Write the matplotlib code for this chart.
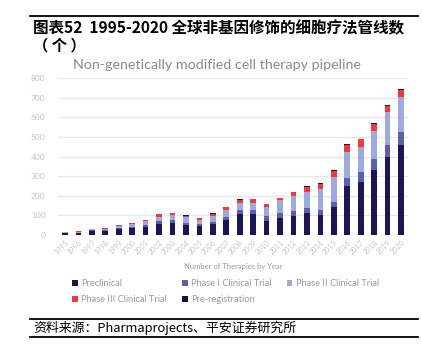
import matplotlib
matplotlib.use("Agg")
import matplotlib.pyplot as plt
import numpy as np

plt.rcParams['font.family'] = ['Lato', 'DejaVu Sans']

# data
years = [str(y) for y in range(1995, 2021)]
preclinical = [9, 9, 20, 21, 29, 35, 42, 57, 60, 52, 48, 57, 77, 105, 109, 73,
               85, 97, 114, 100, 141, 252, 272, 332, 398, 460]
phase1 = [2, 3, 5, 5, 8, 8, 8, 12, 17, 9, 7, 7, 17, 22, 19, 24,
          29, 26, 26, 29, 29, 37, 51, 56, 61, 68]
phase2 = [2, 4, 5, 7, 10, 11, 22, 23, 24, 29, 21, 31, 36, 37, 37, 48,
          63, 77, 80, 106, 128, 136, 128, 145, 167, 177]
phase3 = [2, 2, 2, 3, 4, 5, 5, 15, 11, 9, 11, 14, 14, 17, 17, 14,
          12, 20, 27, 25, 31, 32, 37, 36, 32, 34]
prereg = [0, 1, 1, 0, 1, 1, 1, 1, 1, 1, 1, 1, 1, 1, 1, 1,
          2, 1, 1, 5, 3, 7, 2, 5, 5, 8]

series = [
    ("Preclinical", preclinical, "#1d1650"),
    ("Phase I Clinical Trial", phase1, "#5d5fa8"),
    ("Phase II Clinical Trial", phase2, "#9eaade"),
    ("Phase III Clinical Trial", phase3, "#f0393f"),
    ("Pre-registration", prereg, "#15103d"),
]

fig = plt.figure(figsize=(4.22, 3.59), dpi=100)
ax = fig.add_axes([58 / 422, 1 - 235 / 359, 350 / 422, 156.7 / 359])

x = np.arange(len(years))
bottom = np.zeros(len(years))
bars = {}
for name, vals, col in series:
    bars[name] = ax.bar(x, vals, width=0.42, bottom=bottom, color=col, label=name, zorder=3)
    bottom += np.array(vals)

ax.set_xlim(-0.52, len(years) - 0.48)
ax.set_ylim(0, 800)
ax.set_yticks(range(0, 801, 100))
ax.grid(axis='y', color='#e8e8e8', lw=1.0, zorder=0)
for s in ax.spines.values():
    s.set_visible(False)
ax.tick_params(axis='both', length=0, colors='#c4c4c4', labelsize=6)
ax.tick_params(axis='y', pad=9)
ax.set_xticks(x)
ax.set_xticklabels(years, rotation=45, ha='right', rotation_mode='anchor', fontsize=5.2)
ax.tick_params(axis='x', pad=3)

fig.text(217 / 422, 1 - 65 / 359, "Non-genetically modified cell therapy pipeline",
         ha='center', va='center', fontsize=10.3, color='#8a8a8a')
fig.text(233 / 422, 1 - 266 / 359, "Number of Therapies by Year",
         ha='center', va='center', fontsize=5.5, color='#9a9a9a')

# legend, row-wise order
order = ["Preclinical", "Phase III Clinical Trial", "Phase I Clinical Trial",
         "Pre-registration", "Phase II Clinical Trial"]
leg = fig.legend([bars[n] for n in order], order, ncol=3, frameon=False,
                 loc='upper left', bbox_to_anchor=(72 / 422, 1 - 279 / 359),
                 fontsize=6.7, handlelength=0.6, handleheight=0.6, handletextpad=0.4,
                 columnspacing=1.6, labelspacing=0.75, borderaxespad=0, borderpad=0)
for t in leg.get_texts():
    t.set_color('#9a9a9a')

# header and source
cjk = ['Noto Sans CJK SC', 'DejaVu Sans']
fig.add_artist(plt.Line2D([30 / 422, 418 / 422], [1 - 15.5 / 359] * 2, color='black', lw=1.3))
fig.text(33 / 422, 1 - 28 / 359, "图表52  1995-2020 全球非基因修饰的细胞疗法管线数",
         ha='left', va='center', fontsize=11.2, fontweight='bold', family=cjk)
fig.text(33 / 422, 1 - 45 / 359, "（ 个 ）", ha='left', va='center', fontsize=11,
         fontweight='bold', family=cjk)
fig.add_artist(plt.Line2D([30 / 422, 418 / 422], [1 - 318.5 / 359] * 2, color='black', lw=1.3))
fig.text(33 / 422, 1 - 328 / 359, "资料来源：Pharmaprojects、平安证券研究所",
         ha='left', va='center', fontsize=9.3, style='italic', family=cjk)
fig.add_artist(plt.Line2D([30 / 422, 418 / 422], [1 - 337 / 359] * 2, color='black', lw=1.3))

fig.savefig("out.png", dpi=100)
